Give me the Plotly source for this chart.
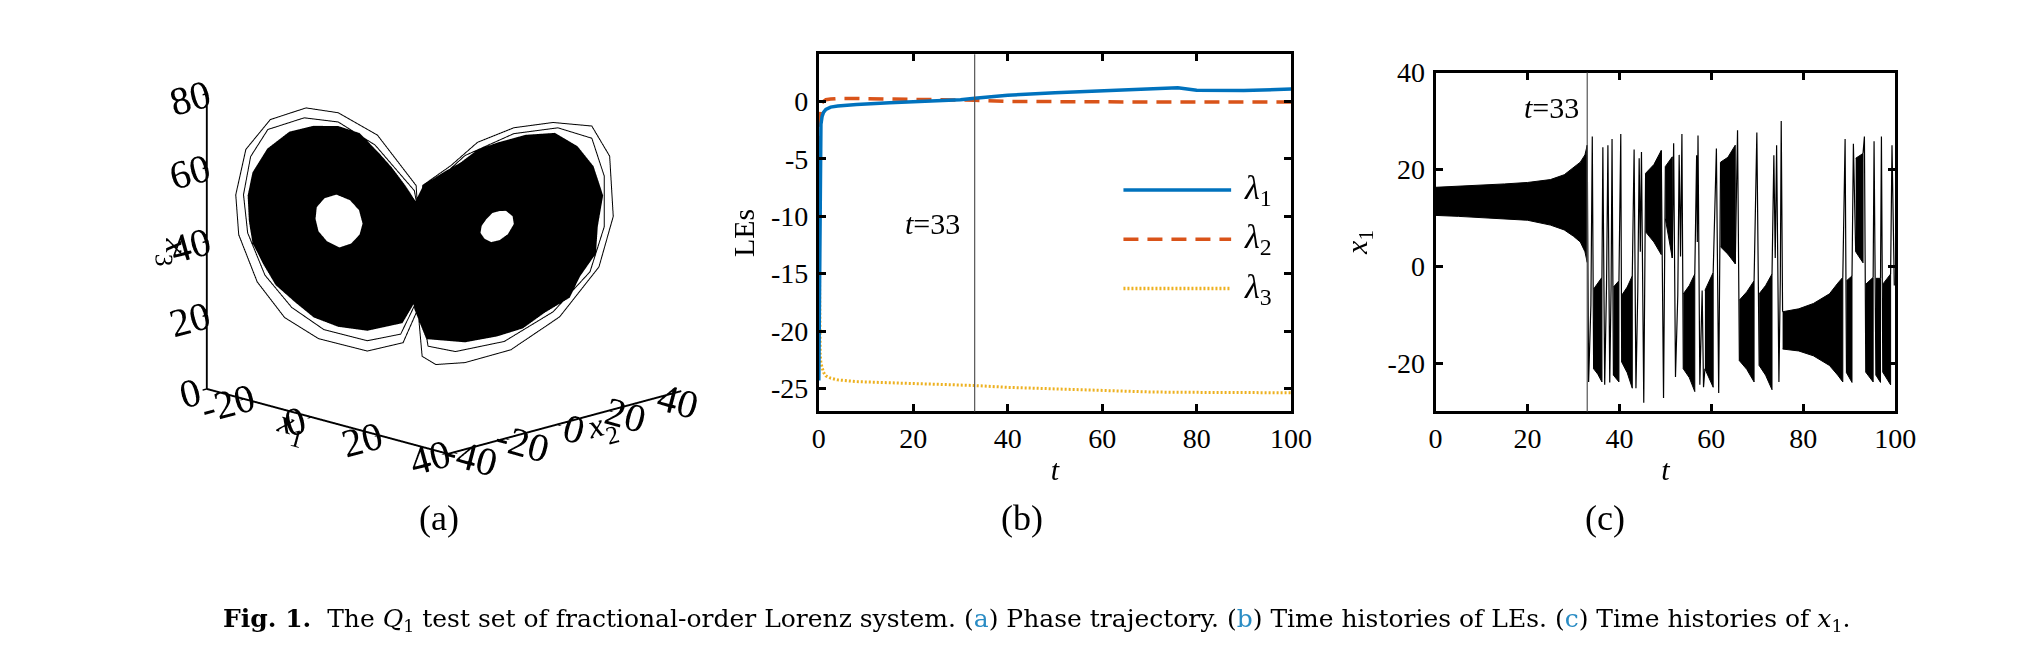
import plotly.graph_objects as go

FONT = "Liberation Serif"

# ---------------- (a) phase trajectory ----------------
# dense part of each wing: outer edge and inner hole, read off the projection.
# depth can't be read from a 2D view, so the points sit on the x1 = x2 plane
left_outer_x1 = [-13.8, -10.2, -6.9, -4.8, -2.5, -0.6, 1.0, 1.2, 1.0, -0.5, -3.0, -8.9,
                 -13.8, -17.9, -21.0, -24.3, -26.4, -28.2, -28.8, -29.0, -28.2, -25.7, -22.0, -18.0]
left_outer_x3 = [70.2, 68.5, 63.2, 59.5, 54.7, 50.1, 45.0, 38.9, 32.5, 24.4, 17.4, 15.0,
                 15.8, 18.1, 22.0, 26.5, 32.1, 37.7, 43.7, 50.5, 56.8, 63.4, 68.2, 70.0]
left_inner_x1 = [-14.1, -11.8, -10.3, -9.7, -10.2, -11.6, -13.6, -15.7, -17.1, -17.6, -17.4, -16.1]
left_inner_x3 = [51.6, 50.2, 47.6, 44.0, 41.0, 38.5, 37.3, 38.9, 41.5, 44.8, 48.0, 50.5]
right_outer_x1 = [12.9, 17.7, 22.6, 26.4, 29.1, 30.7, 29.8, 29.5, 26.8, 25.1, 20.9, 17.2,
                  12.9, 7.5, 1.0, -1.0, -2.0, -2.3, -2.5, -1.0, 0.5, 4.1, 6.7, 9.6]
right_outer_x3 = [67.2, 69.6, 70.4, 67.0, 61.7, 53.9, 45.4, 38.1, 31.7, 25.9, 21.6, 17.1,
                  14.7, 12.8, 13.3, 21.3, 30.9, 37.3, 43.9, 49.9, 55.0, 58.9, 61.4, 65.1]
right_inner_x1 = [13.3, 14.4, 15.5, 15.7, 14.7, 13.3, 11.9, 10.8, 10.1, 10.3, 11.1, 12.1]
right_inner_x3 = [48.7, 48.8, 47.4, 45.3, 42.5, 40.8, 40.2, 41.0, 42.6, 44.5, 46.4, 48.1]

# sparse outer loops
loop1_x1 = [-0.2, -0.7, -7.2, -13.8, -19.2, -25.2, -29.3, -31.0, -30.5, -27.4, -22.8, -17.1, -8.9, -2.9, -0.7, -0.5, -0.2]
loop1_x3 = [41.2, 54.8, 68.1, 73.8, 74.8, 71.3, 63.0, 50.6, 39.8, 27.2, 17.8, 12.4, 9.5, 12.1, 20.3, 30.3, 41.2]
loop2_x1 = [0.2, -1.0, -7.6, -13.8, -19.5, -25.6, -28.5, -29.7, -29.0, -26.1, -21.6, -16.2, -8.9, -3.3, -1.0, -0.3, 0.2]
loop2_x3 = [42.6, 53.4, 65.4, 71.3, 72.1, 68.6, 61.1, 50.7, 40.4, 29.1, 20.6, 14.9, 12.3, 14.4, 22.2, 32.5, 42.6]
loop3_x1 = [-0.7, 0.4, 5.1, 9.6, 15.7, 22.3, 28.8, 31.8, 32.4, 30.0, 23.4, 15.2, 7.5, 2.6, 0.3, -0.3, -0.7]
loop3_x3 = [33.1, 54.9, 60.5, 67.1, 71.4, 73.2, 72.6, 64.6, 48.3, 34.5, 20.6, 11.2, 7.3, 6.5, 8.6, 19.5, 33.1]
loop4_x1 = [0.0, 1.0, 7.5, 15.7, 23.1, 28.8, 30.9, 30.9, 28.5, 22.3, 14.1, 5.9, 1.3, 0.2, 0.0]
loop4_x3 = [38.5, 53.5, 63.4, 69.8, 71.8, 69.3, 59.1, 45.5, 33.1, 21.9, 13.4, 10.2, 11.4, 22.2, 38.5]

# ---------------- (b) Lyapunov exponents ----------------
t_le = [0, 0.1, 0.2, 0.3, 0.45, 0.7, 1.0, 1.5, 2.5, 4, 8, 15, 23, 30, 33, 40, 50, 60, 65, 70, 76, 80, 90, 100]
lam1 = [-24.3, -18, -10, -4, -2.0, -1.3, -0.95, -0.7, -0.5, -0.4, -0.27, -0.12, 0.0, 0.15, 0.28, 0.54, 0.75, 0.9, 1.0, 1.05, 1.18, 0.97, 0.95, 1.07]
lam2 = [-6.4, -3.0, -1.5, -0.8, -0.4, -0.1, 0.0, 0.15, 0.2, 0.25, 0.25, 0.22, 0.18, 0.12, 0.1, 0.0, -0.05, -0.05, -0.05, -0.05, -0.05, -0.05, -0.05, -0.05]
lam3 = [-8.3, -15, -20, -22.0, -22.8, -23.3, -23.6, -23.9, -24.1, -24.25, -24.4, -24.5, -24.58, -24.68, -24.74, -24.9, -25.05, -25.17, -25.22, -25.3, -25.33, -25.35, -25.35, -25.38]

# ---------------- (c) time history of x1 ----------------
# dense oscillation bursts: envelope per burst (None separates bursts)
burst_t = [0, 5, 10, 15, 20, 25, 28, 30, 31.5, 32.5, 33.0, None,
           34.4, 35.3, 36.2, None, 38.7, 39.9, None, 40.5, 41.7, 42.8, None,
           45.7, 47.5, 49.1, None, 50.0, 51.5, None, 53.9, 55.2, 56.4, None,
           58.6, 60.4, None, 62.0, 63.6, 65.2, None, 66.1, 67.7, 69.3, None,
           70.4, 71.8, 73.2, None, 75.5, 79.0, 82.2, 85.7, 87.5, 88.6, None,
           89.4, 90.6, None, 91.4, 93.0, None, 93.6, 95.2, None, 95.8, 96.8, None,
           97.3, 99.0]
burst_hi = [16.3, 16.5, 16.8, 17.0, 17.3, 17.9, 18.9, 20.3, 21.5, 23.0, 25.0, None,
            -4.7, -3.6, -2.3, None, -4.3, -3.0, None, -6.0, -4.3, -2.0, None,
            19.2, 21.0, 23.9, None, 20.6, 22.6, None, -5.7, -4.0, -1.6, None,
            -5.0, -1.3, None, 21.5, 22.5, 25.0, None, -7.0, -5.3, -3.0, None,
            -5.7, -4.0, -1.6, None, -9.4, -8.8, -7.7, -5.7, -3.5, -2.3, None,
            -3.0, -2.0, None, 22.3, 23.3, None, -3.7, -2.3, None, -2.5, -2.5, None,
            -3.7, -1.6]
burst_lo = [10.5, 10.3, 10.0, 9.8, 9.5, 8.5, 7.5, 6.2, 5.0, 3.0, 0.8, None,
            -21.2, -22.3, -23.9, None, -22.5, -23.9, None, -19.8, -22.0, -25.2, None,
            7.1, 5.0, 2.4, None, 9.8, 1.7, None, -21.2, -23.0, -25.9, None,
            -21.2, -25.0, None, 4.0, 2.5, 0.5, None, -19.5, -21.3, -23.9, None,
            -20.5, -22.5, -25.5, None, -17.1, -17.5, -18.5, -20.5, -22.5, -23.9, None,
            -22.0, -24.0, None, 3.0, 0.7, None, -21.9, -23.9, None, -22.5, -24.0, None,
            -21.9, -24.5]

# switching spikes between the bursts (None where a burst takes over)
spike_t = [33.0, 33.3, 33.8, 34.1, 34.4, None, 36.2, 36.4, 36.8, 37.2, 37.5, 37.9, 38.2, 38.4, 38.7, None,
           39.9, 40.3, 40.5, None, 42.8, 43.2, 43.6, 44.0, 44.3, 44.55, 44.8, 45.3, 45.7, None,
           49.1, 49.6, 50.0, None, 51.5, 51.8, 52.2, 52.7, 53.0, 53.3, 53.6, 53.9, None,
           56.4, 56.8, 56.95, 57.1, 57.5, 58.0, 58.3, 58.6, None, 60.4, 61.1, 61.6, 62.0, None,
           65.2, 65.7, 66.1, None, 69.3, 69.9, 70.4, None, 73.2, 73.6, 73.9, 74.2, 74.7, 75.0, 75.2, 75.5, None,
           88.6, 89.1, 89.4, None, 90.6, 90.9, 91.4, None, 93.0, 93.3, 93.6, None, 95.2, 95.4, 95.8, None,
           96.8, 97.0, 97.3, None, 99.0, 99.3, 99.8]
spike_v = [25.0, -23.9, -8.0, 26.8, -21.2, None, -2.3, 24.6, -24.5, -4.0, 25.0, -24.0, -3.5, 26.3, -22.5, None,
           -3.0, 27.3, -19.8, None, -2.0, 24.1, -25.2, -5.0, 22.3, 3.0, 23.6, -28.2, 19.2, None,
           23.9, -27.2, 20.6, None, 1.7, 25.4, -22.9, -6.0, 23.0, 2.0, 27.3, -21.2, None,
           -1.6, 22.9, 5.0, 27.0, -24.5, -5.0, -25.0, -21.2, None, -1.3, 24.3, -26.2, 21.5, None,
           0.5, 28.1, -19.5, None, -3.0, 27.6, -20.5, None, -1.6, 22.9, 1.7, 25.0, -23.9, -3.0, 30.0, -9.4, None,
           -2.3, 26.3, -22.0, None, -2.0, 25.3, 3.0, None, 23.3, 26.8, -21.9, None, -2.3, 25.8, -22.5, None,
           -2.5, 26.8, -21.9, None, -1.6, 25.0, -4.0]

t_switch = 33

fig = go.Figure()


def wing(ox, oz, ix, iz):
    # outer ring has twice as many points as the hole
    n = len(ix)
    m = len(ox)
    ii, jj, kk = [], [], []
    for a in range(n):
        o0, o1, o2 = 2 * a, 2 * a + 1, (2 * a + 2) % m
        h0, h1 = m + a, m + (a + 1) % n
        ii += [o0, o1, o2]
        jj += [o1, o2, h1]
        kk += [h0, h0, h0]
    xs = ox + ix
    return go.Mesh3d(x=xs, y=xs, z=oz + iz, i=ii, j=jj, k=kk, color='black',
                     flatshading=True, hoverinfo='skip', scene='scene',
                     lighting=dict(ambient=1, diffuse=0, specular=0, fresnel=0))


fig.add_trace(wing(left_outer_x1, left_outer_x3, left_inner_x1, left_inner_x3))
fig.add_trace(wing(right_outer_x1, right_outer_x3, right_inner_x1, right_inner_x3))
for lx, lz in [(loop1_x1, loop1_x3), (loop2_x1, loop2_x3), (loop3_x1, loop3_x3), (loop4_x1, loop4_x3)]:
    fig.add_trace(go.Scatter3d(x=lx, y=lx, z=lz, mode='lines', scene='scene',
                               line=dict(color='black', width=2), hoverinfo='skip'))

# (b)
fig.add_trace(go.Scatter(x=t_le, y=lam3, mode='lines', xaxis='x', yaxis='y',
                         line=dict(color='#EDB120', width=3, dash='2px,2px')))
fig.add_trace(go.Scatter(x=t_le, y=lam2, mode='lines', xaxis='x', yaxis='y',
                         line=dict(color='#D95319', width=3.5, dash='15px,9px')))
fig.add_trace(go.Scatter(x=t_le, y=lam1, mode='lines', xaxis='x', yaxis='y',
                         line=dict(color='#0072BD', width=3.5)))

# (c)
poly_t, poly_v = [], []
seg_t, seg_hi, seg_lo = [], [], []
for tt, hh, ll in zip(burst_t + [None], burst_hi + [None], burst_lo + [None]):
    if tt is None:
        poly_t += seg_t + seg_t[::-1] + [None]
        poly_v += seg_hi + seg_lo[::-1] + [None]
        seg_t, seg_hi, seg_lo = [], [], []
    else:
        seg_t.append(tt)
        seg_hi.append(hh)
        seg_lo.append(ll)
fig.add_trace(go.Scatter(x=poly_t, y=poly_v, mode='lines', fill='toself', fillcolor='black',
                         xaxis='x2', yaxis='y2', line=dict(color='black', width=1)))
fig.add_trace(go.Scatter(x=spike_t, y=spike_v, mode='lines', xaxis='x2', yaxis='y2',
                         line=dict(color='black', width=1.2)))

tickfont = dict(family=FONT, size=28, color='black')
ax3 = dict(showgrid=False, showbackground=False, zeroline=False, showspikes=False,
           showline=True, linecolor='black', linewidth=4, ticks='inside', ticklen=6,
           tickwidth=3, tickcolor='black', tickfont=dict(family=FONT, size=22, color='black'))
ax2 = dict(showgrid=False, zeroline=False, showline=True, mirror='ticks', linecolor='black',
           linewidth=3, ticks='inside', ticklen=7, tickwidth=3, tickcolor='black',
           tickfont=tickfont)
title3 = dict(family=FONT, size=34, color='black')

fig.update_layout(
    width=2031, height=663, margin=dict(l=0, r=0, t=0, b=0),
    paper_bgcolor='white', plot_bgcolor='white', showlegend=False,
    font=dict(family=FONT, color='black'),
    scene=dict(
        domain=dict(x=[0.0527, 0.3752], y=[0.2881, 1.0]),
        bgcolor='rgba(0,0,0,0)',
        xaxis=dict(ax3, range=[-31.2, 40.5], tickvals=[-20, 0, 20, 40], ticktext=['-20', '0', '20', '40'],
                   title=dict(text='<i>x</i><sub>1</sub>', font=title3)),
        yaxis=dict(ax3, range=[-41.9, 48.1], tickvals=[-40, -20, 0, 20, 40],
                   ticktext=['-40', '-20', '0', '20', '40'],
                   title=dict(text='<i>x</i><sub>2</sub>', font=title3)),
        zaxis=dict(ax3, range=[0, 80], tickvals=[0, 20, 40, 60, 80],
                   title=dict(text='<i>x</i><sub>3</sub>', font=title3)),
        aspectmode='manual', aspectratio=dict(x=1.48, y=1.43, z=1.33),
        camera=dict(eye=dict(x=0.86, y=-0.86, z=0.29), up=dict(x=0, y=0, z=1),
                    center=dict(x=0, y=0, z=-0.05), projection=dict(type='orthographic')),
    ),
    xaxis=dict(ax2, domain=[0.4013, 0.6371], anchor='y', range=[0, 100], tickvals=[0, 20, 40, 60, 80, 100],
               ticklabelstandoff=0, title=dict(text='<i>t</i>', font=dict(family=FONT, size=30), standoff=6)),
    yaxis=dict(ax2, domain=[0.4005, 0.9517], anchor='x', range=[-27, 4.1],
               tickvals=[-25, -20, -15, -10, -5, 0], ticktext=['-25', '-20', '-15', '-10', '-5', '0'],
               ticklabelstandoff=2, title=dict(text='LEs', font=dict(family=FONT, size=30), standoff=8)),
    xaxis2=dict(ax2, domain=[0.7092, 0.9387], anchor='y2', range=[0, 100], tickvals=[0, 20, 40, 60, 80, 100],
                ticklabelstandoff=0, title=dict(text='<i>t</i>', font=dict(family=FONT, size=30), standoff=6)),
    yaxis2=dict(ax2, domain=[0.4005, 0.9235], anchor='x2', range=[-30, 40],
                tickvals=[-20, 0, 20, 40], ticktext=['-20', '0', '20', '40'],
                ticklabelstandoff=2, title=dict(text='<i>x</i><sub>1</sub>', font=dict(family=FONT, size=30), standoff=12)),
)

# t = 33 markers
for xr, yr in [('x', 'y domain'), ('x2', 'y2 domain')]:
    fig.add_shape(type='line', xref=xr, yref=yr, x0=t_switch, x1=t_switch, y0=0, y1=1,
                  line=dict(color='#555555', width=1.2))
fig.add_annotation(x=24.0, y=-10.6, xref='x', yref='y', text='<i>t</i>=33', showarrow=False,
                   font=dict(family=FONT, size=30))
fig.add_annotation(x=31.7, y=32.7, xref='x2', yref='y2', text='<i>t</i>=33', showarrow=False,
                   xanchor='right', font=dict(family=FONT, size=30))

# legend of (b)
leg = [('#0072BD', 'solid', 0.62, '1'), ('#D95319', '15px,9px', 0.482, '2'), ('#EDB120', '2px,2px', 0.344, '3')]
for col, dash, yy, sub in leg:
    fig.add_shape(type='line', xref='x domain', yref='y domain', x0=0.645, x1=0.873, y0=yy, y1=yy,
                  line=dict(color=col, width=3.5, dash=dash))
    fig.add_annotation(xref='x domain', yref='y domain', x=0.895, y=yy, xanchor='left', yanchor='middle',
                       text='<i>λ</i><sub>%s</sub>' % sub, showarrow=False, font=dict(family=FONT, size=34))

for lab, xx in [('(a)', 0.2009), ('(b)', 0.5027), ('(c)', 0.805)]:
    fig.add_annotation(xref='paper', yref='paper', x=xx, y=0.2029, text=lab, showarrow=False,
                       font=dict(family=FONT, size=36))

blue = "<span style='color:#2a8cc4'>%s</span>"
caption = ("<b>Fig. 1.</b>\u00a0\u00a0The <i>Q</i><sub>1</sub> test set of fractional-order Lorenz system. "
           "(" + blue % 'a' + ") Phase trajectory. (" + blue % 'b' + ") Time histories of LEs. ("
           + blue % 'c' + ") Time histories of <i>x</i><sub>1</sub>.")
fig.add_annotation(xref='paper', yref='paper', x=0.1029, y=0.0784, xanchor='left', yanchor='middle',
                   text=caption, showarrow=False, font=dict(family="DejaVu Serif", size=25))

fig.write_html("out.html")
